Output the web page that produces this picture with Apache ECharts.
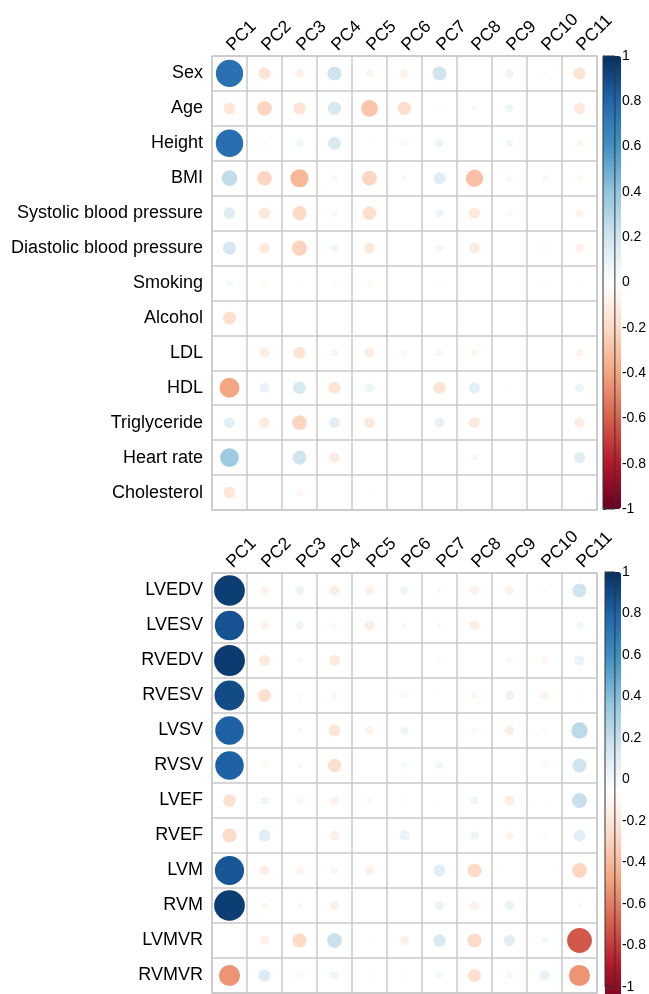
<!DOCTYPE html>
<html>
<head>
<meta charset="utf-8">
<script src="https://cdn.jsdelivr.net/npm/echarts@6/dist/echarts.min.js"></script>
<style>html,body{margin:0;padding:0;background:#fff}#c{width:649px;height:994px}</style>
</head>
<body>
<div id="c"></div>
<script>
const pcLabels = ['PC1','PC2','PC3','PC4','PC5','PC6','PC7','PC8','PC9','PC10','PC11'];
const topRows = ['Sex','Age','Height','BMI','Systolic blood pressure','Diastolic blood pressure','Smoking','Alcohol','LDL','HDL','Triglyceride','Heart rate','Cholesterol'];
const topValues = [
  [0.75,-0.15,-0.08,0.2,-0.06,-0.07,0.2,0,0.08,-0.03,-0.15],
  [-0.14,-0.22,-0.15,0.18,-0.28,-0.18,0.02,0.03,0.07,0.01,-0.13],
  [0.76,-0.03,0.06,0.17,0.02,-0.04,0.08,0.01,0.06,0.01,-0.05],
  [0.25,-0.22,-0.33,0.05,-0.22,0.04,0.14,-0.3,-0.05,0.04,-0.04],
  [0.14,-0.13,-0.2,0.05,-0.18,0.01,0.08,-0.12,-0.04,0.01,-0.07],
  [0.18,-0.12,-0.23,0.07,-0.12,0,0.06,-0.11,0,-0.03,-0.08],
  [0.05,-0.04,-0.02,0.03,-0.04,0,0.02,0,0.01,0.02,-0.02],
  [-0.17,-0.01,0,0,0,0.01,0,0.01,0.01,0.01,0],
  [0.01,-0.1,-0.15,0.06,-0.1,-0.04,0.05,-0.05,0.01,0,-0.07],
  [-0.4,0.1,0.17,-0.15,0.08,0,-0.15,0.12,-0.02,0,0.08],
  [0.12,-0.11,-0.22,0.12,-0.12,0,0.1,-0.12,0.01,0.01,-0.1],
  [0.36,0,0.2,-0.11,-0.01,0,0,0.05,0,0.01,0.13],
  [-0.14,-0.01,-0.05,0,-0.02,0,0,0,0,0,-0.01]
];
const bottomRows = ['LVEDV','LVESV','RVEDV','RVESV','LVSV','RVSV','LVEF','RVEF','LVM','RVM','LVMVR','RVMVR'];
const bottomValues = [
  [0.95,-0.07,0.08,-0.1,-0.08,0.07,0.03,-0.08,-0.08,-0.03,0.2],
  [0.87,-0.07,0.07,-0.04,-0.1,0.03,0.03,-0.1,0.01,0,0.06],
  [0.96,-0.12,0.04,-0.12,0,0,0.03,0.01,0.05,-0.05,0.1],
  [0.9,-0.17,0.03,-0.05,0.01,-0.04,0.02,-0.05,0.09,-0.07,0.02],
  [0.82,-0.01,0.04,-0.14,-0.07,0.07,0.01,-0.04,-0.1,-0.03,0.27],
  [0.82,-0.04,0.04,-0.18,0,0.05,0.06,0.01,-0.01,-0.04,0.2],
  [-0.16,0.07,-0.05,-0.08,0.04,0.02,-0.02,0.07,-0.1,-0.02,0.23],
  [-0.2,0.14,0,-0.09,0.01,0.1,0,0.07,-0.07,0.03,0.13],
  [0.86,-0.09,-0.06,0.05,-0.08,0,0.14,-0.2,0.01,0.01,-0.22],
  [0.95,-0.05,0.03,-0.08,0,0,0.08,-0.08,0.09,0.01,-0.03],
  [0,-0.08,-0.2,0.22,-0.02,-0.08,0.16,-0.2,0.13,0.05,-0.62],
  [-0.45,0.15,-0.04,0.07,-0.02,-0.02,0.05,-0.17,0.05,0.1,-0.45]
];
const legendTicks = { min: -1, max: 1, step: 0.2 };

const rdbu = ['#67001F','#B2182B','#D6604D','#F4A582','#FDDBC7','#FFFFFF','#D1E5F0','#92C5DE','#4393C3','#2166AC','#053061'];
const FONT = 'Liberation Sans, Arial, sans-serif';
const gridLine = '#c8c8c8';

function toData(values){
  const out=[];
  values.forEach((row,j)=>row.forEach((v,i)=>out.push([i,j,v])));
  return out;
}
const sizeFn = v => Math.sqrt(Math.abs(v[2])) * 31.5;

const catX = (g) => ({
  gridIndex:g, type:'category', data:pcLabels, position:'top',
  axisLine:{show:false}, axisTick:{show:false},
  axisLabel:{rotate:-45, fontSize:17.5, color:'#000', fontFamily:FONT, margin:8, interval:0},
  splitLine:{show:true, interval:0, lineStyle:{color:gridLine, width:1.5}}
});
const catY = (g, rows) => ({
  gridIndex:g, type:'category', data:rows, inverse:true,
  axisLine:{show:false}, axisTick:{show:false},
  axisLabel:{fontSize:18, color:'#000', fontFamily:FONT, margin:9, interval:0},
  splitLine:{show:true, interval:0, lineStyle:{color:gridLine, width:1.5}}
});
const legY = (g) => ({
  gridIndex:g, type:'value', min:legendTicks.min, max:legendTicks.max, interval:legendTicks.step, position:'right',
  axisLine:{show:true, lineStyle:{color:'#333', width:1}},
  axisTick:{show:true, length:3, lineStyle:{color:'#333'}},
  axisLabel:{fontSize:14, color:'#000', fontFamily:FONT, margin:7},
  splitLine:{show:false}
});

const option = {
  animation:false,
  backgroundColor:'#fff',
  grid:[
    {left:212, top:56, width:385, height:454, show:true, borderColor:gridLine, borderWidth:1.5},
    {left:212, top:573, width:385, height:420, show:true, borderColor:gridLine, borderWidth:1.5},
    {left:603, top:56, width:18, height:453, show:true, borderColor:'#333', borderWidth:1, z:5},
    {left:605, top:572, width:16, height:438, show:true, borderColor:'#333', borderWidth:1, z:5}
  ],
  xAxis:[catX(0), catX(1), {gridIndex:2, type:'value', show:false}, {gridIndex:3, type:'value', show:false}],
  yAxis:[catY(0, topRows), catY(1, bottomRows), legY(2), legY(3)],
  visualMap:[
    {type:'continuous', min:-1, max:1, dimension:2, seriesIndex:0, calculable:false, orient:'vertical',
     left:603, top:56, itemWidth:18, itemHeight:453, padding:0, text:null, hoverLink:false,
     inRange:{color:rdbu}},
    {type:'continuous', min:-1, max:1, dimension:2, seriesIndex:1, calculable:false, orient:'vertical',
     left:605, top:572, itemWidth:16, itemHeight:438, padding:0, text:null, hoverLink:false,
     inRange:{color:rdbu}}
  ],
  series:[
    {type:'scatter', xAxisIndex:0, yAxisIndex:0, data:toData(topValues), symbolSize:sizeFn, itemStyle:{opacity:1}, z:3},
    {type:'scatter', xAxisIndex:1, yAxisIndex:1, data:toData(bottomValues), symbolSize:sizeFn, itemStyle:{opacity:1}, z:3},
    {type:'scatter', xAxisIndex:2, yAxisIndex:2, data:[]},
    {type:'scatter', xAxisIndex:3, yAxisIndex:3, data:[]}
  ]
};
echarts.init(document.getElementById('c')).setOption(option);
</script>
</body>
</html>
